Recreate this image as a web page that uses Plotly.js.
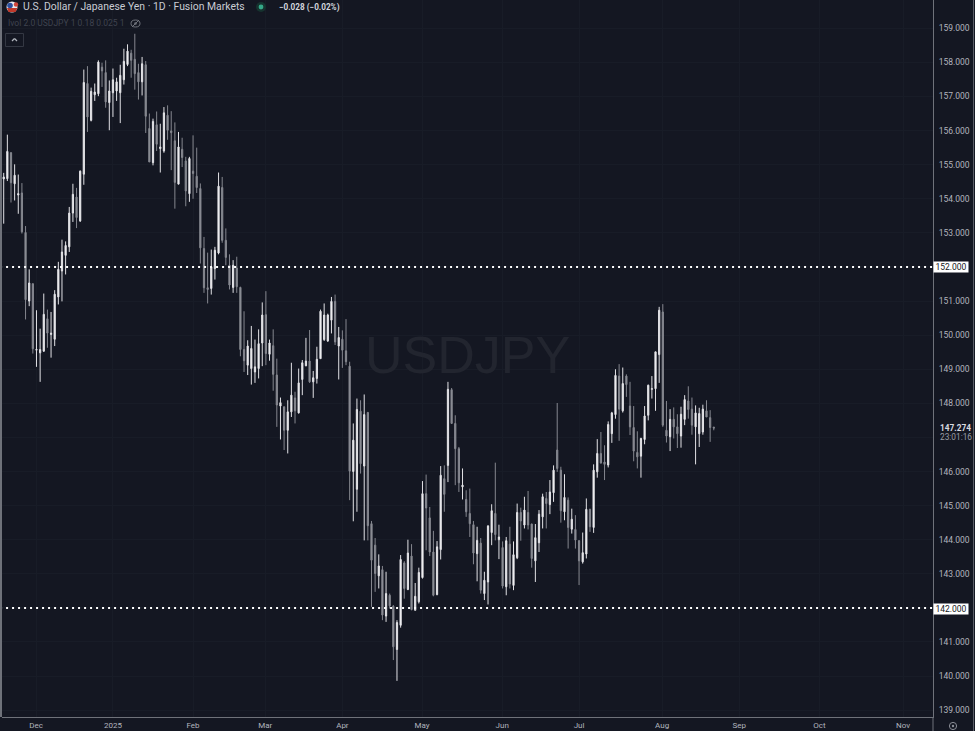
<!DOCTYPE html>
<html><head><meta charset="utf-8">
<script src="https://cdn.plot.ly/plotly-3.0.1.min.js"></script>
<style>html,body{margin:0;padding:0;background:#141722;overflow:hidden}#c{width:975px;height:731px}</style>
</head><body><div id="c"></div>
<script>
const opens=[154.58,154.59,155.35,154.44,154.11,154.17,153.01,151.0,151.51,149.56,149.48,149.53,150.48,150.02,149.88,151.12,151.88,152.34,152.59,153.58,154.05,153.35,154.72,157.38,156.3,157.05,157.08,157.86,157.7,156.82,157.11,157.16,157.11,157.49,157.94,158.27,158.09,157.7,157.43,157.93,156.06,155.06,156.17,155.47,155.4,156.45,
155.99,155.7,154.43,155.45,155.11,154.15,154.81,154.66,154.3,152.54,151.39,151.37,151.95,152.41,154.33,152.78,152.05,151.4,151.97,151.4,149.58,149.12,149.02,148.92,149.02,149.77,150.6,149.44,149.69,148.83,147.92,147.9,147.21,147.75,148.16,147.72,148.7,149.1,149.24,148.63,148.73,149.31,149.87,149.83,150.44,150.99,149.68,149.88,149.54,
149.09,146.0,145.48,147.77,146.16,147.73,144.47,143.84,142.94,143.12,141.76,142.37,142.05,140.78,141.49,143.32,142.54,143.52,141.93,142.18,142.89,145.35,144.64,143.64,142.39,143.71,145.79,146.18,148.4,147.41,146.67,145.55,145.18,144.77,144.44,143.59,143.9,142.42,142.76,144.21,144.77,144.0,143.77,142.62,143.87,142.66,143.47,
144.8,144.43,144.8,144.46,143.38,143.91,144.67,145.21,145.03,145.38,146.63,146.04,144.82,145.16,144.31,144.3,143.97,143.35,143.58,144.89,144.36,145.99,146.53,146.28,146.19,147.11,147.67,148.8,147.78,148.8,147.92,147.29,146.56,146.45,146.94,147.65,148.41,148.43,149.43,150.68,147.21,147.02,147.53,147.31,147.04,147.53,148.07,147.83,147.31,147.11,147.16,147.78,147.58,147.302];
const highs=[154.76,155.88,155.37,155.01,154.71,154.46,153.2,151.93,151.51,150.73,150.19,151.22,150.75,150.68,151.32,152.15,152.8,152.75,153.76,154.44,154.32,154.83,157.79,157.89,157.26,157.38,158.06,157.99,158.06,157.47,157.82,157.55,157.93,158.4,158.53,158.37,158.84,157.96,158.16,158.04,156.5,156.35,156.56,156.2,156.69,156.74,
156.57,156.24,155.96,155.79,155.23,155.23,155.86,155.5,154.45,152.88,152.42,152.51,152.59,154.77,154.64,153.13,152.37,152.2,152.3,151.42,150.7,149.85,150.27,149.87,150.17,150.96,151.29,149.87,150.17,149.31,148.17,147.9,148.09,149.19,148.34,149.02,149.27,149.92,150.15,148.95,149.66,150.75,150.93,150.63,151.12,151.19,150.24,150.14,150.47,
149.22,147.41,148.14,148.09,148.26,147.75,144.55,144.05,143.57,143.23,143.06,142.42,142.08,141.64,143.55,143.37,144.0,143.87,142.73,143.18,145.72,145.91,144.96,144.26,143.96,146.16,146.18,148.63,148.45,147.65,146.72,146.09,145.45,145.5,144.55,144.38,144.05,143.06,144.43,145.04,146.26,144.44,143.95,144.08,144.38,143.95,145.06,
144.94,145.26,145.43,144.47,144.46,144.87,145.35,145.4,145.75,146.18,148.01,146.14,145.92,145.24,144.91,144.72,143.99,144.21,145.21,144.91,146.21,146.95,147.16,146.77,147.47,147.75,149.0,149.15,149.05,148.85,148.63,147.92,147.18,146.99,147.92,148.55,148.8,149.51,150.83,150.91,148.07,147.83,147.88,147.68,147.9,148.24,148.5,148.17,147.94,147.87,147.96,148.09,147.8,147.31];
const lows=[153.27,154.52,153.89,153.95,153.56,152.98,150.46,150.85,149.46,149.07,148.63,149.51,149.63,149.34,149.68,150.9,150.99,151.78,152.44,153.32,153.14,153.32,154.41,155.96,156.27,156.87,157.01,157.28,156.67,156.01,156.4,156.87,156.22,157.35,157.89,157.55,157.2,156.91,157.03,155.93,155.08,154.98,155.4,154.77,155.35,155.73,
154.84,153.71,154.42,154.93,153.78,153.91,154.0,154.17,152.1,151.24,150.93,151.19,151.63,152.37,152.71,152.05,151.34,151.24,151.24,149.38,148.92,148.83,148.55,148.6,148.73,149.09,149.12,149.25,148.37,147.31,146.94,146.63,146.53,147.6,147.41,147.7,148.24,149.09,148.6,148.16,148.58,149.31,149.83,149.8,150.05,149.71,148.7,149.04,149.12,
145.16,144.54,144.82,145.94,143.98,143.98,142.03,142.47,142.57,141.64,141.59,141.98,140.47,139.86,141.42,142.27,142.52,141.93,141.93,142.13,142.86,143.69,143.52,142.34,142.37,143.42,144.82,145.69,147.41,145.6,145.4,145.18,144.67,144.08,143.28,142.78,142.42,142.23,142.1,143.84,143.98,143.43,142.57,142.37,142.57,142.52,143.43,
143.97,144.33,144.3,143.18,142.76,143.64,144.33,144.33,144.75,145.11,145.99,144.5,144.57,143.74,144.18,143.74,142.67,143.3,143.45,144.23,144.2,145.82,146.23,145.75,146.12,146.84,147.55,146.9,147.73,148.19,147.07,146.3,146.09,145.82,146.8,147.5,148.14,147.78,148.6,147.31,146.85,146.6,146.97,146.69,146.7,147.36,147.55,147.08,146.21,146.72,147.08,147.6,146.87,147.21];
const closes=[154.64,155.39,154.47,154.69,154.15,153.03,151.04,151.53,149.6,149.58,149.58,150.61,150.06,150.06,151.2,151.93,152.44,152.63,153.58,154.13,153.45,154.81,157.41,156.4,157.15,157.13,158.01,157.75,156.84,157.16,157.49,157.43,157.62,158.03,158.33,158.06,157.67,157.43,157.96,156.42,155.08,156.27,155.6,155.52,156.52,156.01,
155.94,154.48,155.52,155.21,154.23,155.18,154.74,154.33,152.56,151.39,151.34,152.0,152.49,154.37,152.78,152.28,151.47,152.05,151.42,149.58,149.25,149.68,149.61,149.07,149.75,150.59,149.46,149.77,148.85,147.95,148.02,147.21,147.75,148.24,147.78,148.6,149.19,149.24,148.63,148.75,149.29,150.7,150.59,150.59,150.99,149.8,149.93,149.56,149.22,
146.01,146.92,147.82,146.23,147.67,144.41,143.4,143.01,143.23,141.79,142.42,142.06,140.86,141.57,143.42,142.57,143.61,141.95,142.34,143.04,145.35,144.93,143.64,142.37,143.79,145.89,145.33,148.41,147.41,146.67,145.67,145.6,144.82,144.47,143.61,143.98,142.52,142.81,144.4,144.85,144.15,144.08,142.64,143.97,142.7,143.56,144.8,
144.55,144.87,144.43,143.45,144.06,144.75,145.26,145.06,145.4,146.04,146.09,144.85,145.24,144.36,144.6,143.99,143.38,143.62,144.89,144.38,146.04,146.53,146.25,146.21,147.38,147.72,148.82,147.83,148.58,148.55,147.31,146.6,146.43,146.97,147.63,148.53,148.43,149.51,150.73,147.36,147.04,147.53,147.31,147.11,147.68,148.11,147.82,147.36,147.72,147.7,147.83,147.6,147.29,147.274];
const xTickVals=[8.9,30,52,71.8,93,114.9,136.9,158,180.8,202,224,247];
const xTickText=['Dec','2025','Feb','Mar','Apr','May','Jun','Jul','Aug','Sep','Oct','Nov'];
const yTickVals=[139,140,141,142,143,144,145,146,147,148,149,150,151,152,153,154,155,156,157,158,159];
const yTickText=['139.000','140.000','141.000','','143.000','144.000','145.000','146.000','','148.000','149.000','150.000','151.000','','153.000','154.000','155.000','156.000','157.000','158.000','159.000'];
const levels=[142,152];
const lastPrice=147.274;

const bars=opens.map((_,i)=>i);
const W=975,H=731,L=2,R=42,T=0,B=14;
const pw=W-L-R,ph=H-T-B;
const px=x=>(x-L)/pw, py=y=>1-(y-T)/ph;
const FONT='Roboto, sans-serif';
function txt(x,y,text,size,color,extra){return Object.assign({xref:'paper',yref:'paper',x:px(x),y:py(y),text,showarrow:false,xanchor:'left',yanchor:'middle',font:{family:FONT,size,color},borderpad:0},extra||{});}
function rect(x0,y0,x1,y1,fill,line,lw){return {type:'rect',xref:'paper',yref:'paper',x0:px(x0),x1:px(x1),y0:py(y0),y1:py(y1),fillcolor:fill,line:{color:line||fill,width:lw==null?0:lw},layer:'above'};}
function circ(cx,cy,r,fill,line,lw){return {type:'circle',xref:'paper',yref:'paper',x0:px(cx-r),x1:px(cx+r),y0:py(cy-r),y1:py(cy+r),fillcolor:fill,line:{color:line||fill,width:lw==null?0:lw},layer:'above'};}
function seg(x0,y0,x1,y1,color,w){return {type:'line',xref:'paper',yref:'paper',x0:px(x0),x1:px(x1),y0:py(y0),y1:py(y1),line:{color,width:w},layer:'above'};}

const candle={type:'candlestick',x:bars,open:opens,high:highs,low:lows,close:closes,whiskerwidth:0,
  increasing:{line:{color:'#e2e2e6',width:1},fillcolor:'#ffffff'},
  decreasing:{line:{color:'#85878f',width:1},fillcolor:'#93959c'},hoverinfo:'skip'};
const levelTraces=levels.map(v=>({type:'scatter',mode:'lines',x:[-1,256],y:[v,v],line:{color:'#ffffff',width:2,dash:'2px,4px'},hoverinfo:'skip'}));

const shapes=[
  seg(1,0,1,717,'#6f727a',2),
  seg(973.5,0,973.5,731,'#5a5d66',1),
  seg(933,717,933,731,'#6f727a',1),
  // flag icon
  circ(12,7,5.5,'#e8e8ee'),
  {type:'path',xref:'paper',yref:'paper',path:`M ${px(7)} ${py(8)} L ${px(17.5)} ${py(8)} L ${px(15.5)} ${py(12)} L ${px(8.5)} ${py(12)} Z`,fillcolor:'#c0392b',line:{width:0},layer:'above'},
  circ(10,5.5,2.8,'#2c4f9e'),
  circ(16,4.5,2.2,'#d0453a'),
  // status dot
  circ(261,7,5,'#16332f'),
  circ(261,7,2.4,'#35a888'),
  // eye icon
  {type:'circle',xref:'paper',yref:'paper',x0:px(131),x1:px(140),y0:py(20),y1:py(27),fillcolor:'rgba(0,0,0,0)',line:{color:'#70737c',width:1},layer:'above'},
  circ(135.5,23.5,1.3,'#70737c'),
  seg(132,27,139,20,'#70737c',1),
  // collapse button
  rect(5.5,33.5,23.5,46.5,'rgba(0,0,0,0)','#343843',1),
  seg(12,41,14.5,38.5,'#b2b5be',1.2),
  seg(14.5,38.5,17,41,'#b2b5be',1.2),
  // settings icon
  circ(953,726,3.6,'rgba(0,0,0,0)','#8b8e97',1),
  circ(953,726,1.2,'#8b8e97')
];
const pill=(y,t)=>txt(951,y,t,8.5,'#131722',{xanchor:'center',bgcolor:'#ffffff',width:34,height:10});
const annotations=[
  txt(467,355,'USDJPY',52,'#22252f',{xanchor:'center',font:{family:'Liberation Sans, Arial, sans-serif',size:52,color:'#22252f'}}),
  txt(21.5,7,'U.S. Dollar / Japanese Yen · 1D · Fusion Markets',10.4,'#c9ccd4'),
  txt(277.5,7.5,'<b>−0.028 (−0.02%)</b>',8.2,'#d1d4dc'),
  txt(7,23,'Ivol 2.0 USDJPY 1 0.18 0.025 1',8.5,'#3f434f'),
  pill(267.5,'152.000'),
  pill(608.7,'142.000'),
  txt(939,428,'<b>147.274</b>',8.3,'#d8dae0'),
  txt(939,437,'23:01:16',8.3,'#9a9da6')
];
const layout={width:W,height:H,margin:{l:L,r:R,t:T,b:B,pad:0},paper_bgcolor:'#141722',plot_bgcolor:'#141722',showlegend:false,boxgap:0.52,
  font:{family:FONT,color:'#b2b5be',size:8.5},
  xaxis:{type:'linear',range:[-0.47,255.2],tickmode:'array',tickvals:xTickVals,ticktext:xTickText,ticks:'',showgrid:true,gridcolor:'#181c27',gridwidth:1,zeroline:false,showline:true,linecolor:'#6f727a',linewidth:1,tickfont:{family:FONT,size:8,color:'#b2b5be'},rangeslider:{visible:false},fixedrange:true},
  yaxis:{side:'right',range:[138.80,159.83],tickmode:'array',tickvals:yTickVals,ticktext:yTickText,ticks:'',ticklabelstandoff:3,showgrid:true,gridcolor:'#181c27',gridwidth:1,zeroline:false,showline:true,linecolor:'#6f727a',linewidth:1,tickfont:{family:FONT,size:8.5,color:'#b2b5be'},fixedrange:true},
  shapes,annotations};
Plotly.newPlot('c',[candle].concat(levelTraces),layout,{staticPlot:true,displayModeBar:false});
</script></body></html>
